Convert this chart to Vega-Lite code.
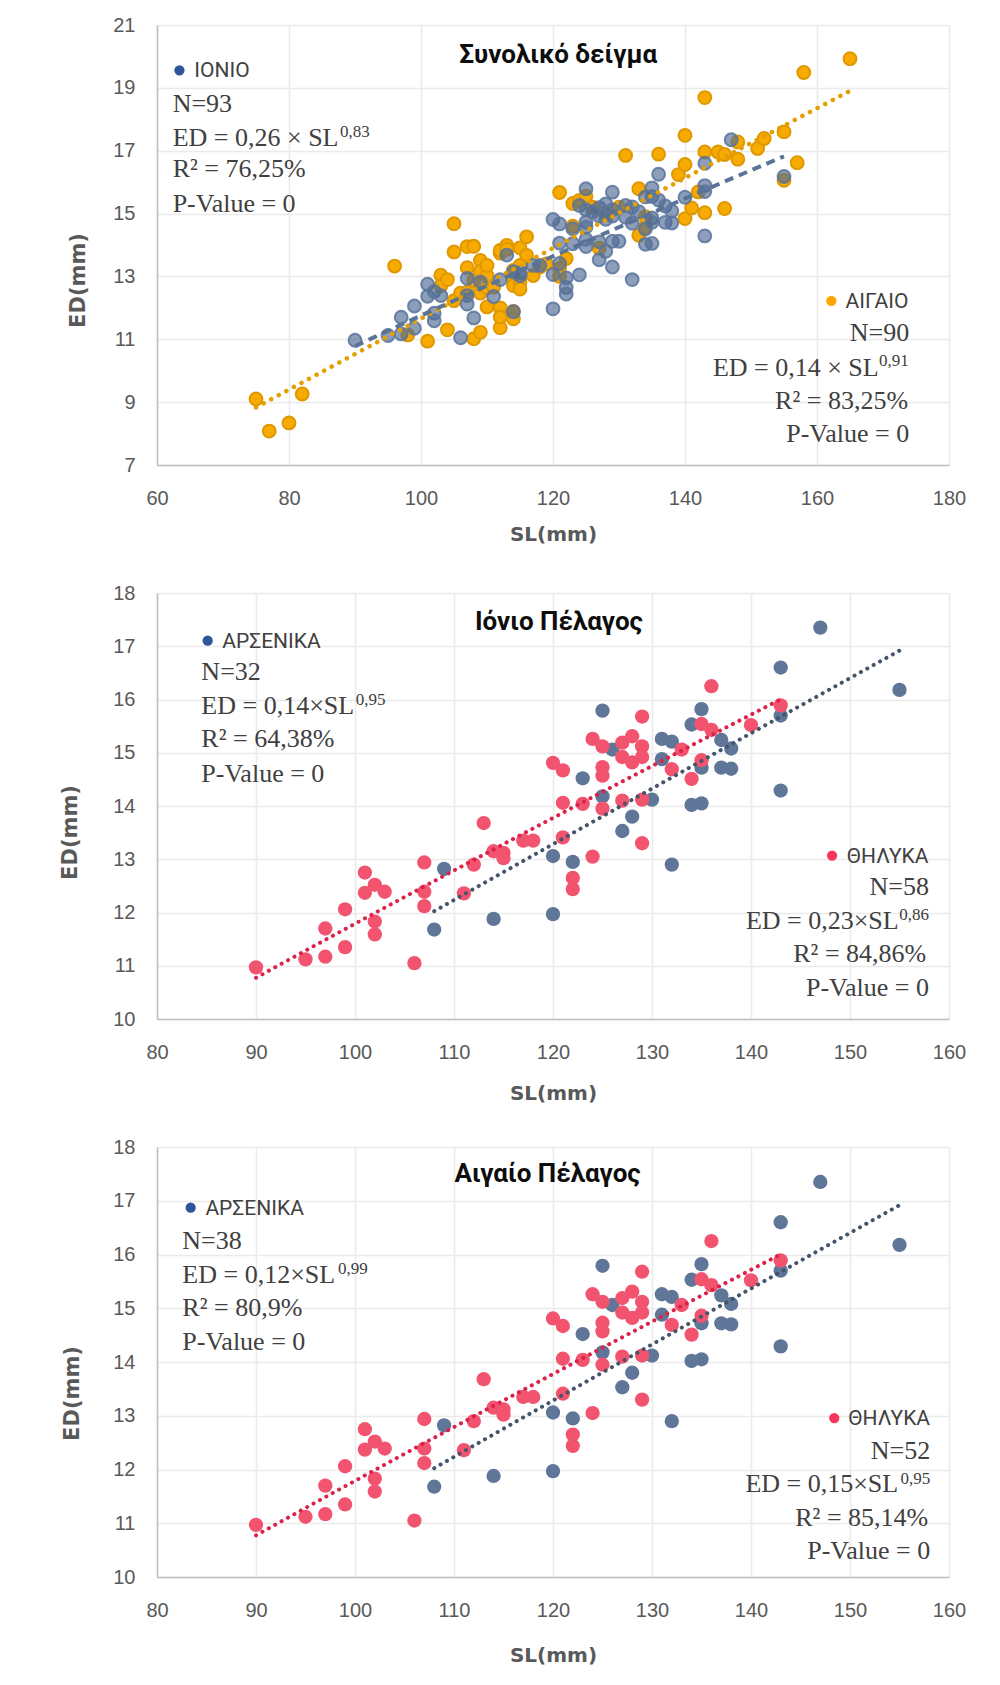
{
"$schema": "https://vega.github.io/schema/vega-lite/v6.json",
"background": "white",
"padding": {"left": 59, "top": 15, "right": 5, "bottom": 5},
"spacing": 128,
"bounds": "flush",
"datasets": {
"ionian": [
{"sex":"F","sl":90,"ed":10.97},{"sex":"F","sl":95,"ed":11.12},{"sex":"F","sl":97,"ed":11.17},{"sex":"F","sl":97,"ed":11.7},{"sex":"F","sl":99,"ed":11.35},{"sex":"F","sl":99,"ed":12.06},{"sex":"F","sl":101,"ed":12.75},{"sex":"F","sl":101,"ed":12.37},{"sex":"F","sl":102,"ed":12.52},{"sex":"F","sl":103,"ed":12.39},{"sex":"F","sl":102,"ed":11.83},{"sex":"F","sl":102,"ed":11.59},{"sex":"F","sl":106,"ed":11.05},{"sex":"F","sl":107,"ed":12.94},{"sex":"F","sl":107,"ed":12.39},{"sex":"F","sl":107,"ed":12.12},{"sex":"F","sl":111,"ed":12.36},{"sex":"F","sl":112,"ed":12.9},{"sex":"F","sl":113,"ed":13.68},{"sex":"F","sl":114,"ed":13.15},{"sex":"F","sl":115,"ed":13.12},{"sex":"F","sl":115,"ed":13.02},{"sex":"F","sl":117,"ed":13.35},{"sex":"F","sl":118,"ed":13.35},{"sex":"F","sl":120,"ed":14.81},{"sex":"F","sl":121,"ed":14.67},{"sex":"F","sl":121,"ed":14.06},{"sex":"F","sl":121,"ed":13.41},{"sex":"F","sl":122,"ed":12.65},{"sex":"F","sl":122,"ed":12.44},{"sex":"F","sl":123,"ed":14.04},{"sex":"F","sl":124,"ed":15.26},{"sex":"F","sl":124,"ed":13.05},{"sex":"F","sl":125,"ed":15.12},{"sex":"F","sl":125,"ed":14.73},{"sex":"F","sl":125,"ed":14.57},{"sex":"F","sl":125,"ed":13.95},{"sex":"F","sl":127,"ed":15.19},{"sex":"F","sl":128,"ed":15.31},{"sex":"F","sl":129,"ed":15.12},{"sex":"F","sl":129,"ed":14.92},{"sex":"F","sl":128,"ed":14.82},{"sex":"F","sl":127,"ed":14.92},{"sex":"F","sl":129,"ed":15.68},{"sex":"F","sl":127,"ed":14.1},{"sex":"F","sl":129,"ed":14.12},{"sex":"F","sl":129,"ed":13.3},{"sex":"F","sl":133,"ed":15.06},{"sex":"F","sl":132,"ed":14.69},{"sex":"F","sl":134,"ed":14.51},{"sex":"F","sl":135,"ed":14.86},{"sex":"F","sl":135,"ed":15.54},{"sex":"F","sl":136,"ed":15.43},{"sex":"F","sl":136,"ed":16.25},{"sex":"F","sl":140,"ed":15.52},{"sex":"F","sl":143,"ed":15.89},
{"sex":"M","sl":147,"ed":17.35},{"sex":"M","sl":143,"ed":16.6},{"sex":"M","sl":155,"ed":16.18},{"sex":"M","sl":125,"ed":15.79},{"sex":"M","sl":135,"ed":15.82},{"sex":"M","sl":143,"ed":15.7},{"sex":"M","sl":134,"ed":15.53},{"sex":"M","sl":137,"ed":15.24},{"sex":"M","sl":131,"ed":15.26},{"sex":"M","sl":132,"ed":15.21},{"sex":"M","sl":126,"ed":15.06},{"sex":"M","sl":138,"ed":15.08},{"sex":"M","sl":131,"ed":14.88},{"sex":"M","sl":135,"ed":14.72},{"sex":"M","sl":137,"ed":14.72},{"sex":"M","sl":138,"ed":14.7},{"sex":"M","sl":123,"ed":14.52},{"sex":"M","sl":143,"ed":14.29},{"sex":"M","sl":125,"ed":14.18},{"sex":"M","sl":130,"ed":14.12},{"sex":"M","sl":134,"ed":14.02},{"sex":"M","sl":135,"ed":14.05},{"sex":"M","sl":128,"ed":13.8},{"sex":"M","sl":127,"ed":13.53},{"sex":"M","sl":120,"ed":13.06},{"sex":"M","sl":122,"ed":12.95},{"sex":"M","sl":132,"ed":12.9},{"sex":"M","sl":109,"ed":12.82},{"sex":"M","sl":120,"ed":11.97},{"sex":"M","sl":114,"ed":11.88},{"sex":"M","sl":108,"ed":11.68}
],
"aegean": [
{"sl":75,"ed":9.1},{"sl":77,"ed":8.08},{"sl":80,"ed":8.34},{"sl":82,"ed":9.26},{"sl":96,"ed":13.33},{"sl":98,"ed":11.14},{"sl":101,"ed":10.94},{"sl":104,"ed":11.3},{"sl":105,"ed":14.68},{"sl":105,"ed":13.78},{"sl":103,"ed":13.04},{"sl":105,"ed":12.23},{"sl":106,"ed":12.47},{"sl":107,"ed":12.5},{"sl":107,"ed":13.95},{"sl":108,"ed":13.96},{"sl":107,"ed":13.28},{"sl":108,"ed":12.87},{"sl":108,"ed":11.02},{"sl":109,"ed":11.22},{"sl":109,"ed":13.51},{"sl":109,"ed":13.16},{"sl":109,"ed":12.47},{"sl":110,"ed":12.64},{"sl":110,"ed":13.03},{"sl":110,"ed":13.35},{"sl":110,"ed":12.03},{"sl":111,"ed":12.66},{"sl":112,"ed":12.0},{"sl":112,"ed":11.37},{"sl":112,"ed":11.71},{"sl":112,"ed":13.74},{"sl":112,"ed":13.83},{"sl":113,"ed":13.99},{"sl":113,"ed":13.86},{"sl":114,"ed":13.19},{"sl":114,"ed":12.91},{"sl":114,"ed":12.71},{"sl":114,"ed":11.89},{"sl":114,"ed":11.65},{"sl":115,"ed":13.91},{"sl":115,"ed":13.35},{"sl":115,"ed":12.82},{"sl":115,"ed":12.6},{"sl":116,"ed":14.26},{"sl":116,"ed":13.67},{"sl":117,"ed":13.03},{"sl":118,"ed":13.3},{"sl":121,"ed":15.67},{"sl":121,"ed":13.25},{"sl":121,"ed":13.0},{"sl":122,"ed":13.57},{"sl":123,"ed":14.6},{"sl":123,"ed":15.32},{"sl":124,"ed":15.42},{"sl":125,"ed":15.55},{"sl":126,"ed":15.2},{"sl":131,"ed":16.85},{"sl":133,"ed":15.79},{"sl":133,"ed":14.31},{"sl":134,"ed":14.57},{"sl":136,"ed":16.89},{"sl":139,"ed":16.24},{"sl":140,"ed":17.49},{"sl":140,"ed":16.56},{"sl":140,"ed":14.84},{"sl":141,"ed":15.18},{"sl":142,"ed":15.69},{"sl":143,"ed":18.69},{"sl":143,"ed":16.96},{"sl":143,"ed":15.03},{"sl":145,"ed":16.96},{"sl":146,"ed":16.88},{"sl":146,"ed":15.16},{"sl":148,"ed":17.28},{"sl":148,"ed":16.73},{"sl":151,"ed":17.07},{"sl":152,"ed":17.39},{"sl":155,"ed":17.6},{"sl":155,"ed":16.06},{"sl":157,"ed":16.62},{"sl":158,"ed":19.49},{"sl":165,"ed":19.93},{"sl":127,"ed":13.9},{"sl":134,"ed":14.9},{"sl":128,"ed":15.0},{"sl":130,"ed":15.2},{"sl":119,"ed":13.4},{"sl":103,"ed":12.7},{"sl":104,"ed":12.9}
],
"notes": [
{"panel":"p1","kind":"title","x":120.8,"y":19.79,"text":"Συνολικό δείγμα"},
{"panel":"p1","kind":"dot","x":63.4,"y":19.56,"series":"ΙΟΝΙΟ"},
{"panel":"p1","kind":"key","x":65.66,"y":19.35,"text":"ΙΟΝΙΟ"},
{"panel":"p1","kind":"statL","x":62.37,"y":18.245,"text":"N=93"},
{"panel":"p1","kind":"statL","x":62.37,"y":17.16,"text":"ED = 0,26 × SL"},
{"panel":"p1","kind":"statL","x":62.37,"y":16.17,"text":"R² = 76,25%"},
{"panel":"p1","kind":"statL","x":62.37,"y":15.05,"text":"P-Value = 0"},
{"panel":"p1","kind":"supL","x":87.71,"y":17.45,"text":"0,83"},
{"panel":"p1","kind":"dot","x":162.17,"y":12.22,"series":"ΑΙΓΑΙΟ"},
{"panel":"p1","kind":"key","x":164.32,"y":12.0,"text":"ΑΙΓΑΙΟ"},
{"panel":"p1","kind":"statR","x":173.97,"y":10.93,"text":"N=90"},
{"panel":"p1","kind":"statR","x":169.35,"y":9.847,"text":"ED = 0,14 × SL"},
{"panel":"p1","kind":"statR","x":173.8,"y":8.78,"text":"R² = 83,25%"},
{"panel":"p1","kind":"statR","x":173.97,"y":7.73,"text":"P-Value = 0"},
{"panel":"p1","kind":"supR","x":173.9,"y":10.15,"text":"0,91"},
{"panel":"p2","kind":"title","x":120.6,"y":17.31,"text":"Ιόνιο Πέλαγος"},
{"panel":"p2","kind":"dot","x":85.12,"y":17.105,"series":"ΑΡΣΕΝΙΚΑ"},
{"panel":"p2","kind":"key","x":86.59,"y":16.97,"text":"ΑΡΣΕΝΙΚΑ"},
{"panel":"p2","kind":"statL","x":84.48,"y":16.357,"text":"N=32"},
{"panel":"p2","kind":"statL","x":84.48,"y":15.732,"text":"ED = 0,14×SL"},
{"panel":"p2","kind":"statL","x":84.48,"y":15.099,"text":"R² = 64,38%"},
{"panel":"p2","kind":"statL","x":84.48,"y":14.451,"text":"P-Value = 0"},
{"panel":"p2","kind":"supL","x":100.07,"y":15.896,"text":"0,95"},
{"panel":"p2","kind":"dot","x":148.19,"y":13.07,"series":"ΘΗΛΥΚΑ"},
{"panel":"p2","kind":"key","x":149.67,"y":12.93,"text":"ΘΗΛΥΚΑ"},
{"panel":"p2","kind":"statR","x":157.97,"y":12.329,"text":"N=58"},
{"panel":"p2","kind":"statR","x":154.92,"y":11.695,"text":"ED = 0,23×SL"},
{"panel":"p2","kind":"statR","x":157.7,"y":11.062,"text":"R² = 84,86%"},
{"panel":"p2","kind":"statR","x":157.97,"y":10.437,"text":"P-Value = 0"},
{"panel":"p2","kind":"supR","x":157.97,"y":11.865,"text":"0,86"},
{"panel":"p3","kind":"title","x":119.45,"y":17.34,"text":"Αιγαίο Πέλαγος"},
{"panel":"p3","kind":"dot","x":83.4,"y":16.87,"series":"ΑΡΣΕΝΙΚΑ"},
{"panel":"p3","kind":"key","x":84.89,"y":16.735,"text":"ΑΡΣΕΝΙΚΑ"},
{"panel":"p3","kind":"statL","x":82.56,"y":16.103,"text":"N=38"},
{"panel":"p3","kind":"statL","x":82.56,"y":15.478,"text":"ED = 0,12×SL"},
{"panel":"p3","kind":"statL","x":82.56,"y":14.853,"text":"R² = 80,9%"},
{"panel":"p3","kind":"statL","x":82.56,"y":14.22,"text":"P-Value = 0"},
{"panel":"p3","kind":"supL","x":98.28,"y":15.633,"text":"0,99"},
{"panel":"p3","kind":"dot","x":148.41,"y":12.957,"series":"ΘΗΛΥΚΑ"},
{"panel":"p3","kind":"key","x":149.83,"y":12.823,"text":"ΘΗΛΥΚΑ"},
{"panel":"p3","kind":"statR","x":158.1,"y":12.203,"text":"N=52"},
{"panel":"p3","kind":"statR","x":154.87,"y":11.578,"text":"ED = 0,15×SL"},
{"panel":"p3","kind":"statR","x":157.9,"y":10.94,"text":"R² = 85,14%"},
{"panel":"p3","kind":"statR","x":158.1,"y":10.336,"text":"P-Value = 0"},
{"panel":"p3","kind":"supR","x":158.1,"y":11.733,"text":"0,95"}
]
},
"vconcat": [
{
"width": 792, "height": 440,
"layer": [
{"data":{"name":"aegean"},"mark":{"type":"circle","fill":"#f7aa00","stroke":"#e09800","strokeWidth":2,"size":165,"opacity":1},
 "encoding":{
  "x":{"field":"sl","type":"quantitative","scale":{"domain":[60,180],"nice":false,"zero":false},"axis":{"values":[60,80,100,120,140,160,180],"title":"SL(mm)","titlePadding":16}},
  "y":{"field":"ed","type":"quantitative","scale":{"domain":[7,21],"nice":false,"zero":false},"axis":{"values":[7,9,11,13,15,17,19,21],"title":"ED(mm)","titleX":-72.5,"titleY":255,"titleAngle":270,"titleBaseline":"alphabetic","titleAlign":"center"}}}},
{"data":{"name":"ionian"},"mark":{"type":"circle","fill":"#4f6a94","fillOpacity":0.65,"stroke":"#5b749e","strokeOpacity":0.85,"strokeWidth":2,"size":165},
 "encoding":{"x":{"field":"sl","type":"quantitative"},"y":{"field":"ed","type":"quantitative"}}},
{"data":{"name":"aegean"},"transform":[{"regression":"ed","on":"sl","method":"pow"}],"mark":{"type":"line","stroke":"#e3a000","strokeWidth":4.5,"strokeDash":[0.1,8.5],"strokeCap":"round"},
 "encoding":{"x":{"field":"sl","type":"quantitative"},"y":{"field":"ed","type":"quantitative"}}},
{"data":{"name":"ionian"},"transform":[{"regression":"ed","on":"sl","method":"pow"}],"mark":{"type":"line","stroke":"#5a7397","strokeWidth":4,"strokeDash":[9,6]},
 "encoding":{"x":{"field":"sl","type":"quantitative"},"y":{"field":"ed","type":"quantitative"}}},
{"data":{"name":"notes"},"transform":[{"filter":"datum.panel=='p1' && datum.kind=='dot'"}],"mark":{"type":"circle","size":105,"opacity":1},
 "encoding":{"x":{"field":"x","type":"quantitative"},"y":{"field":"y","type":"quantitative"},"color":{"field":"series","type":"nominal","scale":{"domain":["ΙΟΝΙΟ","ΑΙΓΑΙΟ","ΑΡΣΕΝΙΚΑ","ΘΗΛΥΚΑ"],"range":["#2e5597","#ffa600","#2e5597","#f8365c"]},"legend":null}}},
{"data":{"name":"notes"},"transform":[{"filter":"datum.panel=='p1' && datum.kind=='title'"}],"mark":{"type":"text","align":"center","baseline":"alphabetic","font":"Roboto","fontWeight":"bold","fontSize":26,"color":"#0d0d0d"},
 "encoding":{"x":{"field":"x","type":"quantitative"},"y":{"field":"y","type":"quantitative"},"text":{"field":"text"}}},
{"data":{"name":"notes"},"transform":[{"filter":"datum.panel=='p1' && datum.kind=='key'"}],"mark":{"type":"text","align":"left","baseline":"alphabetic","font":"Roboto","fontSize":21,"color":"#404040"},
 "encoding":{"x":{"field":"x","type":"quantitative"},"y":{"field":"y","type":"quantitative"},"text":{"field":"text"}}},
{"data":{"name":"notes"},"transform":[{"filter":"datum.panel=='p1' && datum.kind=='statL'"}],"mark":{"type":"text","align":"left","baseline":"alphabetic","font":"Liberation Serif","fontSize":26,"color":"#404040"},
 "encoding":{"x":{"field":"x","type":"quantitative"},"y":{"field":"y","type":"quantitative"},"text":{"field":"text"}}},
{"data":{"name":"notes"},"transform":[{"filter":"datum.panel=='p1' && datum.kind=='statR'"}],"mark":{"type":"text","align":"right","baseline":"alphabetic","font":"Liberation Serif","fontSize":26,"color":"#404040"},
 "encoding":{"x":{"field":"x","type":"quantitative"},"y":{"field":"y","type":"quantitative"},"text":{"field":"text"}}},
{"data":{"name":"notes"},"transform":[{"filter":"datum.panel=='p1' && datum.kind=='supL'"}],"mark":{"type":"text","align":"left","baseline":"alphabetic","font":"Liberation Serif","fontSize":17,"color":"#404040"},
 "encoding":{"x":{"field":"x","type":"quantitative"},"y":{"field":"y","type":"quantitative"},"text":{"field":"text"}}},
{"data":{"name":"notes"},"transform":[{"filter":"datum.panel=='p1' && datum.kind=='supR'"}],"mark":{"type":"text","align":"right","baseline":"alphabetic","font":"Liberation Serif","fontSize":17,"color":"#404040"},
 "encoding":{"x":{"field":"x","type":"quantitative"},"y":{"field":"y","type":"quantitative"},"text":{"field":"text"}}}
]
},
{
"width": 792, "height": 426,
"layer": [
{"data":{"name":"ionian"},"transform":[{"filter":"datum.sex=='M'"}],"mark":{"type":"circle","fill":"#5f7699","size":205,"opacity":1},
 "encoding":{
  "x":{"field":"sl","type":"quantitative","scale":{"domain":[80,160],"nice":false,"zero":false},"axis":{"values":[80,90,100,110,120,130,140,150,160],"title":"SL(mm)","titlePadding":21}},
  "y":{"field":"ed","type":"quantitative","scale":{"domain":[10,18],"nice":false,"zero":false},"axis":{"values":[10,11,12,13,14,15,16,17,18],"title":"ED(mm)","titleX":-80.5,"titleY":239,"titleAngle":270,"titleBaseline":"alphabetic","titleAlign":"center"}}}},
{"data":{"name":"ionian"},"transform":[{"filter":"datum.sex=='F'"}],"mark":{"type":"circle","fill":"#f2536f","size":205,"opacity":1},
 "encoding":{"x":{"field":"sl","type":"quantitative"},"y":{"field":"ed","type":"quantitative"}}},
{"data":{"name":"ionian"},"transform":[{"filter":"datum.sex=='F'"},{"regression":"ed","on":"sl","method":"pow"}],"mark":{"type":"line","stroke":"#dc2249","strokeWidth":4,"strokeDash":[0.1,7.2],"strokeCap":"round"},
 "encoding":{"x":{"field":"sl","type":"quantitative"},"y":{"field":"ed","type":"quantitative"}}},
{"data":{"name":"ionian"},"transform":[{"filter":"datum.sex=='M'"},{"regression":"ed","on":"sl","method":"pow"}],"mark":{"type":"line","stroke":"#44546a","strokeWidth":4,"strokeDash":[0.1,7.2],"strokeCap":"round"},
 "encoding":{"x":{"field":"sl","type":"quantitative"},"y":{"field":"ed","type":"quantitative"}}},
{"data":{"name":"notes"},"transform":[{"filter":"datum.panel=='p2' && datum.kind=='dot'"}],"mark":{"type":"circle","size":105,"opacity":1},
 "encoding":{"x":{"field":"x","type":"quantitative"},"y":{"field":"y","type":"quantitative"},"color":{"field":"series","type":"nominal","scale":{"domain":["ΙΟΝΙΟ","ΑΙΓΑΙΟ","ΑΡΣΕΝΙΚΑ","ΘΗΛΥΚΑ"],"range":["#2e5597","#ffa600","#2e5597","#f8365c"]},"legend":null}}},
{"data":{"name":"notes"},"transform":[{"filter":"datum.panel=='p2' && datum.kind=='title'"}],"mark":{"type":"text","align":"center","baseline":"alphabetic","font":"Roboto","fontWeight":"bold","fontSize":26,"color":"#0d0d0d"},
 "encoding":{"x":{"field":"x","type":"quantitative"},"y":{"field":"y","type":"quantitative"},"text":{"field":"text"}}},
{"data":{"name":"notes"},"transform":[{"filter":"datum.panel=='p2' && datum.kind=='key'"}],"mark":{"type":"text","align":"left","baseline":"alphabetic","font":"Roboto","fontSize":21,"color":"#404040"},
 "encoding":{"x":{"field":"x","type":"quantitative"},"y":{"field":"y","type":"quantitative"},"text":{"field":"text"}}},
{"data":{"name":"notes"},"transform":[{"filter":"datum.panel=='p2' && datum.kind=='statL'"}],"mark":{"type":"text","align":"left","baseline":"alphabetic","font":"Liberation Serif","fontSize":26,"color":"#404040"},
 "encoding":{"x":{"field":"x","type":"quantitative"},"y":{"field":"y","type":"quantitative"},"text":{"field":"text"}}},
{"data":{"name":"notes"},"transform":[{"filter":"datum.panel=='p2' && datum.kind=='statR'"}],"mark":{"type":"text","align":"right","baseline":"alphabetic","font":"Liberation Serif","fontSize":26,"color":"#404040"},
 "encoding":{"x":{"field":"x","type":"quantitative"},"y":{"field":"y","type":"quantitative"},"text":{"field":"text"}}},
{"data":{"name":"notes"},"transform":[{"filter":"datum.panel=='p2' && datum.kind=='supL'"}],"mark":{"type":"text","align":"left","baseline":"alphabetic","font":"Liberation Serif","fontSize":17,"color":"#404040"},
 "encoding":{"x":{"field":"x","type":"quantitative"},"y":{"field":"y","type":"quantitative"},"text":{"field":"text"}}},
{"data":{"name":"notes"},"transform":[{"filter":"datum.panel=='p2' && datum.kind=='supR'"}],"mark":{"type":"text","align":"right","baseline":"alphabetic","font":"Liberation Serif","fontSize":17,"color":"#404040"},
 "encoding":{"x":{"field":"x","type":"quantitative"},"y":{"field":"y","type":"quantitative"},"text":{"field":"text"}}}
]
},
{
"width": 792, "height": 430,
"layer": [
{"data":{"name":"ionian"},"transform":[{"filter":"datum.sex=='M'"}],"mark":{"type":"circle","fill":"#5f7699","size":205,"opacity":1},
 "encoding":{
  "x":{"field":"sl","type":"quantitative","scale":{"domain":[80,160],"nice":false,"zero":false},"axis":{"values":[80,90,100,110,120,130,140,150,160],"title":"SL(mm)","titlePadding":25}},
  "y":{"field":"ed","type":"quantitative","scale":{"domain":[10,18],"nice":false,"zero":false},"axis":{"values":[10,11,12,13,14,15,16,17,18],"title":"ED(mm)","titleX":-78.5,"titleY":246,"titleAngle":270,"titleBaseline":"alphabetic","titleAlign":"center"}}}},
{"data":{"name":"ionian"},"transform":[{"filter":"datum.sex=='F'"}],"mark":{"type":"circle","fill":"#f2536f","size":205,"opacity":1},
 "encoding":{"x":{"field":"sl","type":"quantitative"},"y":{"field":"ed","type":"quantitative"}}},
{"data":{"name":"ionian"},"transform":[{"filter":"datum.sex=='F'"},{"regression":"ed","on":"sl","method":"pow"}],"mark":{"type":"line","stroke":"#dc2249","strokeWidth":4,"strokeDash":[0.1,7.2],"strokeCap":"round"},
 "encoding":{"x":{"field":"sl","type":"quantitative"},"y":{"field":"ed","type":"quantitative"}}},
{"data":{"name":"ionian"},"transform":[{"filter":"datum.sex=='M'"},{"regression":"ed","on":"sl","method":"pow"}],"mark":{"type":"line","stroke":"#44546a","strokeWidth":4,"strokeDash":[0.1,7.2],"strokeCap":"round"},
 "encoding":{"x":{"field":"sl","type":"quantitative"},"y":{"field":"ed","type":"quantitative"}}},
{"data":{"name":"notes"},"transform":[{"filter":"datum.panel=='p3' && datum.kind=='dot'"}],"mark":{"type":"circle","size":105,"opacity":1},
 "encoding":{"x":{"field":"x","type":"quantitative"},"y":{"field":"y","type":"quantitative"},"color":{"field":"series","type":"nominal","scale":{"domain":["ΙΟΝΙΟ","ΑΙΓΑΙΟ","ΑΡΣΕΝΙΚΑ","ΘΗΛΥΚΑ"],"range":["#2e5597","#ffa600","#2e5597","#f8365c"]},"legend":null}}},
{"data":{"name":"notes"},"transform":[{"filter":"datum.panel=='p3' && datum.kind=='title'"}],"mark":{"type":"text","align":"center","baseline":"alphabetic","font":"Roboto","fontWeight":"bold","fontSize":26,"color":"#0d0d0d"},
 "encoding":{"x":{"field":"x","type":"quantitative"},"y":{"field":"y","type":"quantitative"},"text":{"field":"text"}}},
{"data":{"name":"notes"},"transform":[{"filter":"datum.panel=='p3' && datum.kind=='key'"}],"mark":{"type":"text","align":"left","baseline":"alphabetic","font":"Roboto","fontSize":21,"color":"#404040"},
 "encoding":{"x":{"field":"x","type":"quantitative"},"y":{"field":"y","type":"quantitative"},"text":{"field":"text"}}},
{"data":{"name":"notes"},"transform":[{"filter":"datum.panel=='p3' && datum.kind=='statL'"}],"mark":{"type":"text","align":"left","baseline":"alphabetic","font":"Liberation Serif","fontSize":26,"color":"#404040"},
 "encoding":{"x":{"field":"x","type":"quantitative"},"y":{"field":"y","type":"quantitative"},"text":{"field":"text"}}},
{"data":{"name":"notes"},"transform":[{"filter":"datum.panel=='p3' && datum.kind=='statR'"}],"mark":{"type":"text","align":"right","baseline":"alphabetic","font":"Liberation Serif","fontSize":26,"color":"#404040"},
 "encoding":{"x":{"field":"x","type":"quantitative"},"y":{"field":"y","type":"quantitative"},"text":{"field":"text"}}},
{"data":{"name":"notes"},"transform":[{"filter":"datum.panel=='p3' && datum.kind=='supL'"}],"mark":{"type":"text","align":"left","baseline":"alphabetic","font":"Liberation Serif","fontSize":17,"color":"#404040"},
 "encoding":{"x":{"field":"x","type":"quantitative"},"y":{"field":"y","type":"quantitative"},"text":{"field":"text"}}},
{"data":{"name":"notes"},"transform":[{"filter":"datum.panel=='p3' && datum.kind=='supR'"}],"mark":{"type":"text","align":"right","baseline":"alphabetic","font":"Liberation Serif","fontSize":17,"color":"#404040"},
 "encoding":{"x":{"field":"x","type":"quantitative"},"y":{"field":"y","type":"quantitative"},"text":{"field":"text"}}}
]
}
],
"config": {
 "font": "Liberation Sans",
 "view": {"stroke": null},
 "axis": {"labelFont": "Liberation Sans", "labelFontSize": 20, "labelColor": "#595959", "ticks": false, "tickSize": 0, "labelPadding": 23, "labelFlush": false, "labelOverlap": false, "domainColor": "#bfbfbf", "domainWidth": 1.5, "gridColor": "#ebebeb", "gridWidth": 1.6, "titleFont": "DejaVu Sans", "titleFontSize": 20, "titleFontWeight": "bold", "titleColor": "#595959"},
 "axisY": {"labelPadding": 22, "titleFontSize": 21}
}
}
